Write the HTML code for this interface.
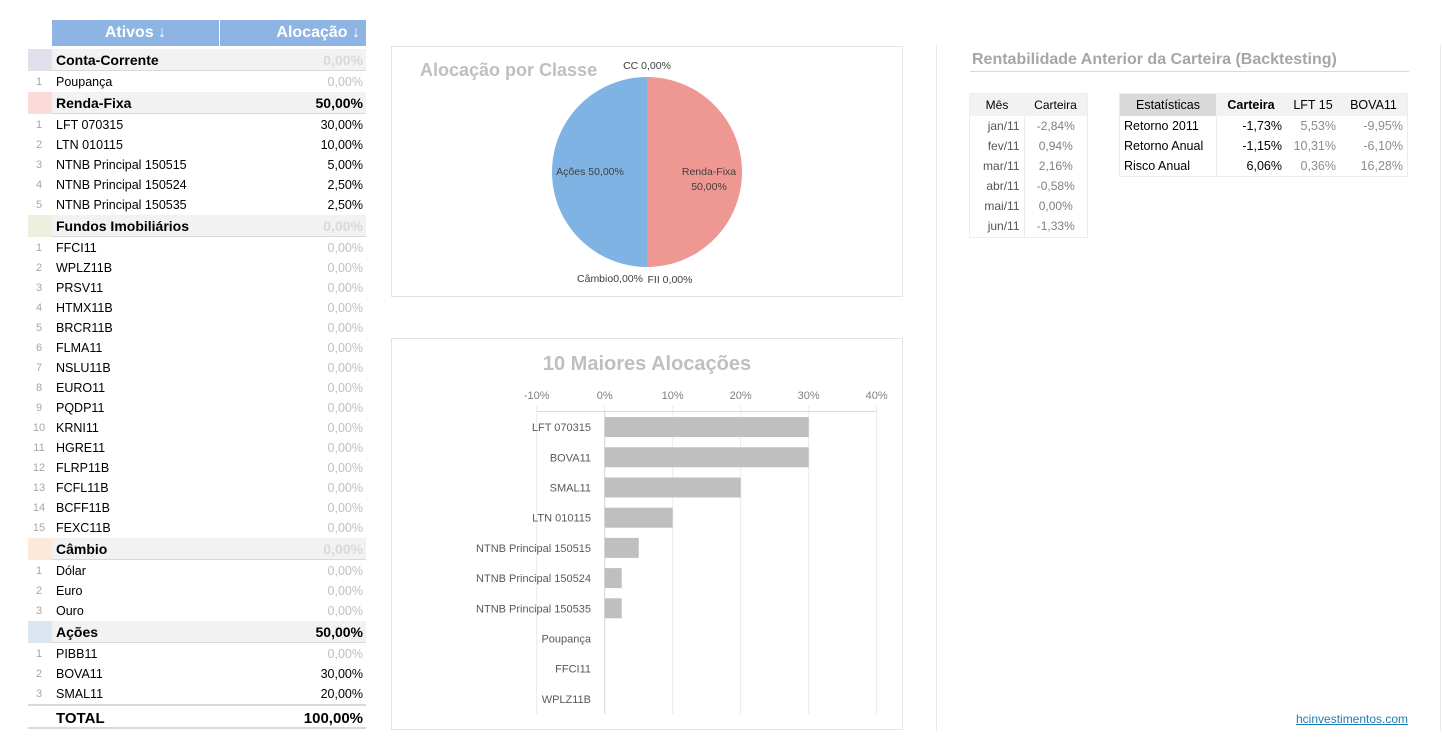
<!DOCTYPE html>
<html><head><meta charset="utf-8">
<style>
body{margin:0;width:1442px;height:751px;background:#fff;position:relative;overflow:hidden;font-family:"Liberation Sans",sans-serif;}
.abs{position:absolute;}
.row{position:absolute;left:28px;width:338px;font-size:12.5px;color:#000;}
.row .idx{position:absolute;left:0;width:22px;text-align:center;color:#A6A6A6;font-size:11px;}
.row .nm{position:absolute;left:28px;}
.row .vl{position:absolute;right:3px;}
.cat{font-weight:bold;font-size:14px;}
.cat .bg{position:absolute;left:24px;right:0;top:0;bottom:1px;background:#F2F2F2;border-bottom:1px solid #D9D9D9;}
.cat .sw{position:absolute;left:0;width:24px;top:0;bottom:1px;}
table{border-collapse:collapse;font-size:12px;}
td{padding:0 4px;height:20px;}
</style></head><body>

<div class="abs" style="left:52px;top:20px;width:167px;height:26px;background:#8DB4E2;color:#fff;font-weight:bold;font-size:16px;line-height:26px;text-align:center;">Ativos ↓</div>
<div class="abs" style="left:220px;top:20px;width:146px;height:26px;background:#8DB4E2;color:#fff;font-weight:bold;font-size:16px;line-height:26px;text-align:right;box-sizing:border-box;padding-right:6px;">Alocação ↓</div>
<div id="tbl"></div>

<div class="abs" style="left:936px;top:45px;width:1px;height:686px;background:#E7E7E7;"></div>
<div class="abs" style="left:1440px;top:45px;width:1px;height:686px;background:#E7E7E7;"></div>

<div class="abs" style="left:391px;top:46px;width:512px;height:251px;border:1px solid #E3E3E3;box-sizing:border-box;"></div>
<svg class="abs" style="left:0;top:0" width="1442" height="751" id="charts"></svg>

<div class="abs" style="left:972px;top:51px;font-size:16px;font-weight:bold;color:#A6A6A6;">Rentabilidade Anterior da Carteira (Backtesting)</div>
<div class="abs" style="left:970px;top:71px;width:439px;height:1px;background:#D9D9D9;"></div>

<table class="abs" style="left:969px;top:93px;border:1px solid #EDEDED;">
<tr style="background:#F2F2F2;height:22px"><td style="width:46px;text-align:center;color:#000">Mês</td><td style="width:55px;text-align:center;color:#000">Carteira</td></tr>
<tr><td style="text-align:right;color:#555">jan/11</td><td style="text-align:center;color:#7F7F7F;border-left:1px solid #EDEDED">-2,84%</td></tr>
<tr><td style="text-align:right;color:#555">fev/11</td><td style="text-align:center;color:#7F7F7F;border-left:1px solid #EDEDED">0,94%</td></tr>
<tr><td style="text-align:right;color:#555">mar/11</td><td style="text-align:center;color:#7F7F7F;border-left:1px solid #EDEDED">2,16%</td></tr>
<tr><td style="text-align:right;color:#555">abr/11</td><td style="text-align:center;color:#7F7F7F;border-left:1px solid #EDEDED">-0,58%</td></tr>
<tr><td style="text-align:right;color:#555">mai/11</td><td style="text-align:center;color:#7F7F7F;border-left:1px solid #EDEDED">0,00%</td></tr>
<tr style="height:22px"><td style="text-align:right;color:#555">jun/11</td><td style="text-align:center;color:#7F7F7F;border-left:1px solid #EDEDED">-1,33%</td></tr>
</table>

<table class="abs" style="left:1119px;top:93px;border:1px solid #EDEDED;font-size:12.5px;">
<tr style="background:#F2F2F2;height:22px"><td style="width:88px;text-align:center;background:#D9D9D9">Estatísticas</td><td style="width:62px;text-align:center;font-weight:bold">Carteira</td><td style="width:46px;text-align:center">LFT 15</td><td style="width:59px;text-align:center">BOVA11</td></tr>
<tr><td style="border-right:1px solid #EDEDED">Retorno 2011</td><td style="text-align:right">-1,73%</td><td style="text-align:right;color:#8C8C8C">5,53%</td><td style="text-align:right;color:#8C8C8C">-9,95%</td></tr>
<tr><td style="border-right:1px solid #EDEDED">Retorno Anual</td><td style="text-align:right">-1,15%</td><td style="text-align:right;color:#8C8C8C">10,31%</td><td style="text-align:right;color:#8C8C8C">-6,10%</td></tr>
<tr><td style="border-right:1px solid #EDEDED">Risco Anual</td><td style="text-align:right">6,06%</td><td style="text-align:right;color:#8C8C8C">0,36%</td><td style="text-align:right;color:#8C8C8C">16,28%</td></tr>
</table>

<a class="abs" style="left:1296px;top:712px;font-size:12px;color:#1F7BB8;text-decoration:underline;">hcinvestimentos.com</a>

<script>
const tableRows = [
 ["cat","Conta-Corrente","0,00%","#E4DFEC"],
 ["item","Poupança","0,00%",1],
 ["cat","Renda-Fixa","50,00%","#FCDADA"],
 ["item","LFT 070315","30,00%",1],["item","LTN 010115","10,00%",2],["item","NTNB Principal 150515","5,00%",3],["item","NTNB Principal 150524","2,50%",4],["item","NTNB Principal 150535","2,50%",5],
 ["cat","Fundos Imobiliários","0,00%","#EBF1DE"],
 ["item","FFCI11","0,00%",1],["item","WPLZ11B","0,00%",2],["item","PRSV11","0,00%",3],["item","HTMX11B","0,00%",4],["item","BRCR11B","0,00%",5],["item","FLMA11","0,00%",6],["item","NSLU11B","0,00%",7],["item","EURO11","0,00%",8],["item","PQDP11","0,00%",9],["item","KRNI11","0,00%",10],["item","HGRE11","0,00%",11],["item","FLRP11B","0,00%",12],["item","FCFL11B","0,00%",13],["item","BCFF11B","0,00%",14],["item","FEXC11B","0,00%",15],
 ["cat","Câmbio","0,00%","#FDE9D9"],
 ["item","Dólar","0,00%",1],["item","Euro","0,00%",2],["item","Ouro","0,00%",3],
 ["cat","Ações","50,00%","#DCE6F1"],
 ["item","PIBB11","0,00%",1],["item","BOVA11","30,00%",2],["item","SMAL11","20,00%",3]
];
const tbl=document.getElementById('tbl');
let y=49;
tableRows.forEach(r=>{
  const d=document.createElement('div');
  const zero=r[2]==="0,00%";
  if(r[0]==="cat"){
    d.className='row cat';
    d.style.top=y+'px';d.style.height='23px';d.style.lineHeight='22px';
    d.innerHTML='<div class="sw" style="background:'+r[3]+'"></div><div class="bg"></div><span class="nm" style="z-index:1">'+r[1]+'</span><span class="vl" style="z-index:1;color:'+(zero?'#D9D9D9':'#000')+'">'+r[2]+'</span>';
    
    y+=23;
  } else {
    d.className='row';
    d.style.top=y+'px';d.style.height='20px';d.style.lineHeight='20px';
    d.innerHTML='<span class="idx">'+r[3]+'</span><span class="nm">'+r[1]+'</span><span class="vl" style="color:'+(zero?'#BFBFBF':'#000')+'">'+r[2]+'</span>';
    
    y+=20;
  }
  
  tbl.appendChild(d);
});
const tot=document.createElement('div');
tot.className='row';
tot.style.cssText='top:'+y+'px;height:25px;line-height:26px;font-weight:bold;font-size:15px;border-top:2px solid #D9D9D9;border-bottom:2px solid #D9D9D9;box-sizing:border-box;';
tot.innerHTML='<span class="nm">TOTAL</span><span class="vl">100,00%</span>';


tbl.appendChild(tot);

const NS='http://www.w3.org/2000/svg';
const svg=document.getElementById('charts');
function el(t,a,txt){const e=document.createElementNS(NS,t);for(const k in a)e.setAttribute(k,a[k]);if(txt!==undefined)e.textContent=txt;svg.appendChild(e);return e;}

const pieLabels=["CC","Renda-Fixa","FII","Câmbio","Ações"];
const pieValues=[0,50,0,0,50];
const pieColors=["#B1A0C7","#EF9793","#C4D79B","#FABF8F","#7EB3E3"];
const cx=647,cy=172,R=95;
let t=el('text',{x:420,y:76,'font-size':18,'font-weight':'bold',fill:'#BFBFBF'},'Alocação por Classe');

const pieTotal=pieValues.reduce((a,b)=>a+b,0);
let ang=0;
pieValues.forEach((v,i)=>{
  if(v<=0)return;
  const a0=ang,a1=ang+v/pieTotal*2*Math.PI;
  const x0=cx+R*Math.sin(a0),y0=cy-R*Math.cos(a0),x1=cx+R*Math.sin(a1),y1=cy-R*Math.cos(a1);
  const p=el('path',{d:`M${cx},${cy}L${x0},${y0}A${R},${R} 0 ${a1-a0>Math.PI?1:0} 1 ${x1},${y1}Z`,fill:pieColors[i]});
  
  
  ang=a1;
});
function lab(x,yy,s,anchor){const e=el('text',{x:x,y:yy,'font-size':10.5,fill:'#404040','text-anchor':anchor||'middle'},s);

}
function pct(v){return v.toFixed(2).replace('.',',')+'%';}
lab(647,69,pieLabels[0]+' '+pct(pieValues[0]));
lab(709,175,pieLabels[1]);lab(709,190,pct(pieValues[1]));
lab(590,175,pieLabels[4]+' '+pct(pieValues[4]));
lab(610,282,pieLabels[3]+pct(pieValues[3]));
lab(670,283,pieLabels[2]+' '+pct(pieValues[2]));

const barCats=["LFT 070315","BOVA11","SMAL11","LTN 010115","NTNB Principal 150515","NTNB Principal 150524","NTNB Principal 150535","Poupança","FFCI11","WPLZ11B"];
const barVals=[30,30,20,10,5,2.5,2.5,0,0,0];
const xTicks=[-10,0,10,20,30,40];
const xTickLabels=["-10%","0%","10%","20%","30%","40%"];
let r=el('rect',{x:391.5,y:338.5,width:511,height:391,fill:'none',stroke:'#E3E3E3'});

t=el('text',{x:647,y:370,'font-size':20,'font-weight':'bold',fill:'#BFBFBF','text-anchor':'middle'},'10 Maiores Alocações');

const X=v=>604.7+(v)*6.8;
const top0=412,band=30.2;
xTicks.forEach((v,i)=>{
  const g=el('line',{x1:X(v),x2:X(v),y1:406,y2:714,stroke:'#EBEBEB'});
  
  const tl=el('text',{x:X(v),y:399,'font-size':11,fill:'#7F7F7F','text-anchor':'middle'},xTickLabels[i]);
  
});
let ax=el('line',{x1:X(-10),x2:X(40),y1:411.5,y2:411.5,stroke:'#D9D9D9'});

let ay=el('line',{x1:X(0),x2:X(0),y1:412,y2:714,stroke:'#D9D9D9'});

barCats.forEach((c,i)=>{
  const yc=top0+band*(i+0.5);
  const b=el('rect',{x:X(Math.min(0,barVals[i])),y:yc-10,width:Math.abs(X(barVals[i])-X(0)),height:20,fill:'#BFBFBF'});
  
  
  const l=el('text',{x:591,y:yc+4,'font-size':11,fill:'#595959','text-anchor':'end'},c);
  
  
});
</script>
</body></html>
